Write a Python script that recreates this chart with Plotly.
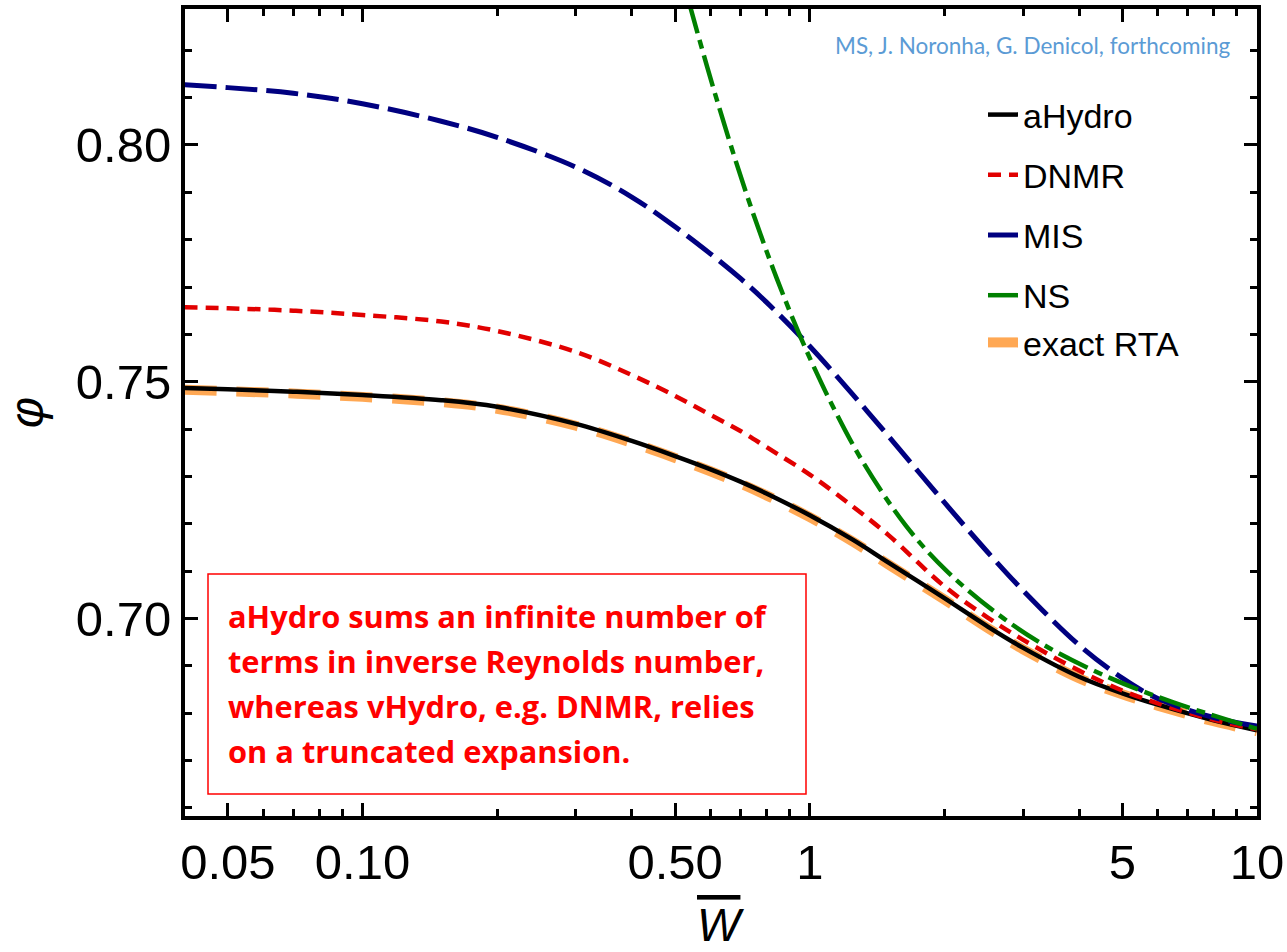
import plotly.graph_objects as go
import numpy as np

# ---------------- data ----------------
w_grid = [0.04, 0.05, 0.07, 0.1, 0.15, 0.2, 0.3, 0.4, 0.5, 0.6, 0.7, 0.8,
          1.0, 1.25, 1.5, 2.0, 2.5, 3.0, 4.0, 5.0, 6.0, 8.0, 10.0]

ahydro = [0.7487, 0.7484, 0.7479, 0.7472, 0.7461, 0.7447, 0.7411, 0.7375,
          0.7343, 0.7315, 0.7289, 0.7264, 0.7218, 0.7166, 0.7118, 0.7043,
          0.6983, 0.6938, 0.6877, 0.6842, 0.6818, 0.6785, 0.6764]

exact_rta = [0.7483, 0.7480, 0.7475, 0.7468, 0.7457, 0.7443, 0.7407, 0.7371,
             0.7339, 0.7311, 0.7285, 0.7260, 0.7214, 0.7162, 0.7114, 0.7040,
             0.6980, 0.6935, 0.6874, 0.6840, 0.6816, 0.6783, 0.6762]

dnmr = [0.7657, 0.7655, 0.7650, 0.7641, 0.7627, 0.7607, 0.7563, 0.7514,
        0.7470, 0.7430, 0.7396, 0.7362, 0.7304, 0.7236, 0.7176, 0.7068,
        0.7002, 0.6955, 0.6890, 0.6848, 0.6821, 0.6786, 0.6766]

mis = [0.8127, 0.8121, 0.8109, 0.8087, 0.8050, 0.8016, 0.7953, 0.7890,
       0.7827, 0.7770, 0.7718, 0.7668, 0.7575, 0.7472, 0.7385, 0.7245,
       0.7140, 0.7059, 0.6944, 0.6874, 0.6831, 0.6791, 0.6773]

ns_w = [0.5, 0.54, 0.62, 0.72, 0.83, 0.95, 1.05, 1.13, 1.31, 1.64, 2.02,
        2.61, 3.37, 4.73, 6.5, 10.0]
ns = [0.8413, 0.8293, 0.8095, 0.7900, 0.7736, 0.7598, 0.7507, 0.7445,
      0.7333, 0.7196, 0.7101, 0.7012, 0.6942, 0.6873, 0.6823, 0.6767]

x_major = [0.05, 0.1, 0.5, 1, 5, 10]
x_major_labels = ["0.05", "0.10", "0.50", "1", "5", "10"]
x_minor = [0.06, 0.07, 0.08, 0.09, 0.2, 0.3, 0.4, 0.6, 0.7, 0.8, 0.9,
           2, 3, 4, 6, 7, 8, 9]
y_major = [0.70, 0.75, 0.80]
y_major_labels = ["0.70", "0.75", "0.80"]

note_lines = ["aHydro sums an infinite number of",
              "terms in inverse Reynolds number,",
              "whereas vHydro, e.g. DNMR, relies",
              "on a truncated expansion."]

# ---------------- figure ----------------
fig = go.Figure()

fig.add_trace(go.Scatter(x=w_grid, y=exact_rta, mode="lines", name="exact RTA",
                         line=dict(color="rgb(255,168,84)", width=10, dash="32px,20px", shape="spline"),
                         legendgroup="g4", legendrank=5))
fig.add_trace(go.Scatter(x=w_grid, y=ahydro, mode="lines", name="aHydro",
                         line=dict(color="black", width=4.5, shape="spline"),
                         legendgroup="g1", legendrank=1))
fig.add_trace(go.Scatter(x=w_grid, y=dnmr, mode="lines", name="DNMR",
                         line=dict(color="rgb(225,0,0)", width=4.5, dash="13px,8px", shape="spline"),
                         legendgroup="g2", legendrank=2))
fig.add_trace(go.Scatter(x=w_grid, y=mis, mode="lines", name="MIS",
                         line=dict(color="rgb(0,0,128)", width=5, dash="32px,9px", shape="spline"),
                         legendgroup="g3", legendrank=3))
fig.add_trace(go.Scatter(x=ns_w, y=ns, mode="lines", name="NS",
                         line=dict(color="rgb(0,128,0)", width=4.5, dash="32px,7px,9px,7px", shape="spline"),
                         legendgroup="g4", legendrank=4))

L, R, T, B = 185, 30, 9, 136
W, H = 1287, 952

axis_common = dict(showline=True, linecolor="black", linewidth=4, mirror="allticks",
                   ticks="inside", ticklen=13, tickwidth=3, tickcolor="black",
                   showgrid=False, zeroline=False,
                   tickfont=dict(family="Liberation Sans, Arial", size=49, color="black"))

fig.update_xaxes(type="log", range=[np.log10(0.0401), 1.0],
                 tickmode="array", tickvals=x_major, ticktext=x_major_labels,
                 minor=dict(tickmode="array", tickvals=x_minor, ticks="inside",
                            ticklen=7, tickwidth=3, tickcolor="black"),
                 **axis_common)
fig.update_yaxes(range=[0.6583, 0.8287],
                 tickmode="array", tickvals=y_major, ticktext=y_major_labels,
                 minor=dict(dtick=0.01, tick0=0.0, ticks="inside",
                            ticklen=7, tickwidth=3, tickcolor="black"),
                 title=dict(text="<i>φ</i>", standoff=18,
                            font=dict(family="Liberation Sans, Arial", size=48, color="black")),
                 **axis_common)

pw, ph = W - L - R, H - T - B

def px2paper_x(px):
    return (px - L) / pw

def px2paper_y(py):
    return (H - B - py) / ph

# x-axis title (W with overline)
fig.add_annotation(xref="paper", yref="paper", x=0.5, y=px2paper_y(925),
                   xanchor="center", yanchor="middle", showarrow=False,
                   text="<i><span style=\"text-decoration:overline\">W</span></i>",
                   font=dict(family="Liberation Sans, Arial", size=46, color="black"))

# note box
fig.add_shape(type="rect", xref="paper", yref="paper",
              x0=px2paper_x(208), x1=px2paper_x(806),
              y0=px2paper_y(794), y1=px2paper_y(574),
              line=dict(color="red", width=1.5), fillcolor="rgba(0,0,0,0)")
for i, line_text in enumerate(note_lines):
    fig.add_annotation(xref="paper", yref="paper",
                       x=px2paper_x(226), y=px2paper_y(616 + 45 * i),
                       xanchor="left", yanchor="middle", showarrow=False,
                       text="<b>" + line_text + "</b>",
                       font=dict(family="Open Sans", size=30.8, color="red"))

# citation
fig.add_annotation(xref="paper", yref="paper",
                   x=px2paper_x(1233), y=px2paper_y(46),
                   xanchor="right", yanchor="middle", showarrow=False,
                   text="MS, J. Noronha, G. Denicol, forthcoming",
                   font=dict(family="Lato, Open Sans", size=22.5, color="rgb(91,155,213)"))

fig.update_layout(
    width=W, height=H,
    margin=dict(l=L, r=R, t=T, b=B, autoexpand=False),
    paper_bgcolor="white", plot_bgcolor="white",
    showlegend=True,
    legend=dict(x=px2paper_x(983), y=px2paper_y(86), xanchor="left", yanchor="top",
                bgcolor="rgba(255,255,255,0)", borderwidth=0,
                tracegroupgap=13, itemwidth=30,
                font=dict(family="Liberation Sans, Arial", size=34, color="black")),
)

fig.write_html("out.html")
